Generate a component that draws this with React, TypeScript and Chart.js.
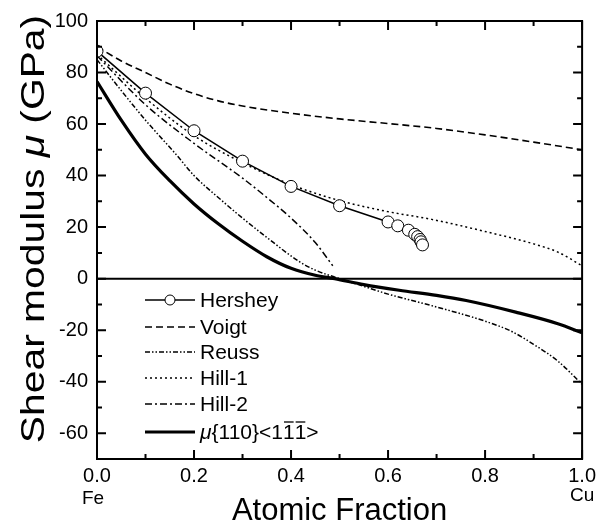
import React, { useEffect, useRef } from 'react';
import { Chart, registerables } from 'chart.js';

Chart.register(...registerables);

// ---- data ----
const hersheyX = [0, 0.1, 0.2, 0.3, 0.4, 0.5, 0.6, 0.62, 0.642, 0.655, 0.661, 0.666, 0.668, 0.671];
const hersheyY = [88.3, 72, 57.4, 45.6, 35.8, 28.3, 22, 20.5, 18.8, 17.2, 16.3, 15.2, 14.3, 13.1];

const voigtX = [0, 0.05, 0.1, 0.15, 0.2, 0.25, 0.3, 0.4, 0.5, 0.6, 0.7, 0.8, 0.9, 1.0];
const voigtY = [90, 84.5, 80, 75.5, 71.8, 69, 67, 64.2, 62, 60.2, 58.3, 55.8, 53, 50];

const reussX = [0, 0.05, 0.1, 0.164, 0.2, 0.253, 0.3, 0.35, 0.418, 0.45, 0.5, 0.55, 0.6, 0.7, 0.8, 0.856, 0.9, 0.95, 1.0];
const reussY = [85, 73, 61.5, 48, 40, 31, 23.5, 16, 6.5, 3.3, 0, -3, -6, -11, -16.5, -20.6, -25.5, -32, -41];

const hill1X = [0, 0.1, 0.2, 0.3, 0.4, 0.5, 0.6, 0.69, 0.8, 0.9, 0.95, 1.0];
const hill1Y = [87, 70, 55.5, 45, 36.5, 30.3, 26, 23, 18.3, 13.5, 10.3, 5];

const hill2X = [0, 0.1, 0.2, 0.3, 0.35, 0.4, 0.45, 0.486];
const hill2Y = [86.5, 67.5, 52.5, 39, 31.5, 23.5, 14, 5];

const muX = [0, 0.05, 0.1, 0.15, 0.2, 0.25, 0.3, 0.35, 0.4, 0.45, 0.49, 0.55, 0.623, 0.7, 0.761, 0.863, 0.95, 1.0];
const muY = [76.5, 61.5, 48.3, 38, 29, 21.3, 14.5, 8.5, 4, 1.3, 0, -2.3, -4.5, -6.5, -8.5, -13, -17.5, -21];

const xTickValues = [0, 0.2, 0.4, 0.6, 0.8, 1.0];
const xMinorValues = [0.1, 0.3, 0.5, 0.7, 0.9];
const yTickValues = [-60, -40, -20, 0, 20, 40, 60, 80, 100];
const yMinorValues = [-50, -30, -10, 10, 30, 50, 70, 90];

const seriesLabels = ['Hershey', 'Voigt', 'Reuss', 'Hill-1', 'Hill-2', 'μ{110}<111>'];

// ---- styles ----
const FONT = '"Liberation Sans", Arial, Helvetica, sans-serif';
const styles = [
  { dash: [] as number[], width: 1.5, marker: true },
  { dash: [7, 4], width: 1.6, marker: false },
  { dash: [5, 2, 1.5, 2, 1.5, 2], width: 1.5, marker: false },
  { dash: [2, 3], width: 1.5, marker: false },
  { dash: [7, 3, 2, 3], width: 1.5, marker: false },
  { dash: [] as number[], width: 3.2, marker: false },
];

const toXY = (xs: number[], ys: number[]) => xs.map((x, i) => ({ x, y: ys[i] }));

const decorPlugin = {
  id: 'decor',
  beforeDatasetsDraw(chart: any) {
    const { ctx, chartArea: a, scales } = chart;
    const y0 = scales.y.getPixelForValue(0);
    ctx.save();
    ctx.strokeStyle = '#000';
    ctx.lineWidth = 2;
    ctx.beginPath();
    ctx.moveTo(a.left, y0);
    ctx.lineTo(a.right, y0);
    ctx.stroke();
    ctx.restore();
  },
  afterDraw(chart: any) {
    const { ctx, chartArea: a, scales } = chart;
    const xs = scales.x;
    const ys = scales.y;
    ctx.save();
    ctx.strokeStyle = '#000';
    ctx.fillStyle = '#000';
    ctx.lineWidth = 2;
    ctx.setLineDash([]);
    ctx.strokeRect(a.left, a.top, a.right - a.left, a.bottom - a.top);

    const drawX = (v: number, len: number) => {
      const p = xs.getPixelForValue(v);
      ctx.beginPath();
      ctx.moveTo(p, a.bottom);
      ctx.lineTo(p, a.bottom - len);
      ctx.moveTo(p, a.top);
      ctx.lineTo(p, a.top + len);
      ctx.stroke();
    };
    const drawY = (v: number, len: number) => {
      const p = ys.getPixelForValue(v);
      ctx.beginPath();
      ctx.moveTo(a.left, p);
      ctx.lineTo(a.left + len, p);
      ctx.moveTo(a.right, p);
      ctx.lineTo(a.right - len, p);
      ctx.stroke();
    };
    xTickValues.forEach((v) => drawX(v, 9));
    xMinorValues.forEach((v) => drawX(v, 5));
    yTickValues.forEach((v) => drawY(v, 9));
    yMinorValues.forEach((v) => drawY(v, 5));

    // x title and end labels
    ctx.textBaseline = 'alphabetic';
    ctx.textAlign = 'center';
    ctx.font = `31px ${FONT}`;
    ctx.fillText('Atomic Fraction', (a.left + a.right) / 2, 520);
    ctx.font = `19px ${FONT}`;
    ctx.fillText('Fe', a.left - 4, 504);
    ctx.fillText('Cu', a.right, 501);

    // y title (rotated, stretched along its length like the reference)
    ctx.save();
    ctx.translate(44, 229);
    ctx.rotate(-Math.PI / 2);
    ctx.scale(1.2, 1);
    const parts = [
      { t: 'Shear modulus ', f: `34px ${FONT}` },
      { t: 'μ', f: `italic 34px ${FONT}` },
      { t: ' (GPa)', f: `34px ${FONT}` },
    ];
    let total = 0;
    parts.forEach((p) => { ctx.font = p.f; total += ctx.measureText(p.t).width; });
    let cx = -total / 2;
    ctx.textAlign = 'left';
    parts.forEach((p) => { ctx.font = p.f; ctx.fillText(p.t, cx, 0); cx += ctx.measureText(p.t).width; });
    ctx.restore();

    // legend
    const rowY = [300, 327, 352, 378, 404, 432];
    const lx0 = 145, lx1 = 195, tx = 200;
    seriesLabels.forEach((lab, i) => {
      const st = styles[i];
      const yy = rowY[i];
      ctx.setLineDash(st.dash);
      ctx.lineWidth = st.width;
      ctx.beginPath();
      ctx.moveTo(lx0, yy);
      ctx.lineTo(lx1, yy);
      ctx.stroke();
      ctx.setLineDash([]);
      if (st.marker) {
        ctx.lineWidth = 1;
        ctx.beginPath();
        ctx.arc((lx0 + lx1) / 2, yy, 5, 0, Math.PI * 2);
        ctx.fillStyle = '#fff';
        ctx.fill();
        ctx.stroke();
        ctx.fillStyle = '#000';
      }
      ctx.textAlign = 'left';
      ctx.textBaseline = 'middle';
      if (i === 5) {
        let x = tx;
        const segs = [
          { t: 'μ', f: `italic 21px ${FONT}`, bar: false },
          { t: '{110}<1', f: `21px ${FONT}`, bar: false },
          { t: '1', f: `21px ${FONT}`, bar: true },
          { t: '1', f: `21px ${FONT}`, bar: true },
          { t: '>', f: `21px ${FONT}`, bar: false },
        ];
        segs.forEach((s) => {
          ctx.font = s.f;
          ctx.fillText(s.t, x, yy + 1);
          const w = ctx.measureText(s.t).width;
          if (s.bar) {
            ctx.lineWidth = 1.3;
            ctx.beginPath();
            ctx.moveTo(x + 1, yy - 10);
            ctx.lineTo(x + w - 1, yy - 10);
            ctx.stroke();
          }
          x += w;
        });
      } else {
        ctx.font = `21px ${FONT}`;
        ctx.fillText(lab, tx, yy + 1);
      }
    });
    ctx.restore();
  },
};

export default function App() {
  const ref = useRef<HTMLCanvasElement | null>(null);
  useEffect(() => {
    if (!ref.current) return;
    const lineDs = (i: number, xs: number[], ysArr: number[]) => ({
      label: seriesLabels[i],
      data: toXY(xs, ysArr),
      showLine: true,
      borderColor: '#000',
      backgroundColor: '#000',
      borderWidth: styles[i].width,
      borderDash: styles[i].dash,
      pointRadius: 0,
      tension: 0.4,
      cubicInterpolationMode: 'monotone' as const,
      fill: false,
    });
    const chart = new Chart(ref.current, {
      type: 'scatter',
      data: {
        datasets: [
          {
            label: seriesLabels[0],
            data: toXY(hersheyX, hersheyY),
            showLine: true,
            borderColor: '#000',
            borderWidth: styles[0].width,
            pointRadius: 6,
            pointBackgroundColor: '#fff',
            pointBorderColor: '#000',
            pointBorderWidth: 1,
            tension: 0,
          },
          lineDs(1, voigtX, voigtY),
          lineDs(2, reussX, reussY),
          lineDs(3, hill1X, hill1Y),
          lineDs(4, hill2X, hill2Y),
          lineDs(5, muX, muY),
        ],
      },
      options: {
        animation: false,
        responsive: false,
        devicePixelRatio: 1,
        layout: { padding: { left: 0, right: 18, top: 14, bottom: 0 } },
        plugins: { legend: { display: false }, tooltip: { enabled: false } },
        scales: {
          x: {
            type: 'linear',
            min: 0,
            max: 1,
            afterBuildTicks: (s: any) => { s.ticks = xTickValues.map((v) => ({ value: v })); },
            afterFit: (s: any) => { s.height = 67; },
            grid: { display: false, drawTicks: false },
            border: { display: false },
            ticks: {
              color: '#000',
              font: { family: FONT, size: 20 },
              padding: 5,
              maxRotation: 0,
              autoSkip: false,
              callback: (v: any) => Number(v).toFixed(1),
            },
          },
          y: {
            type: 'linear',
            min: -70,
            max: 100,
            afterBuildTicks: (s: any) => { s.ticks = yTickValues.map((v) => ({ value: v })); },
            afterFit: (s: any) => { s.width = 97; },
            grid: { display: false, drawTicks: false },
            border: { display: false },
            ticks: {
              color: '#000',
              font: { family: FONT, size: 20 },
              padding: 9,
              autoSkip: false,
              callback: (v: any) => String(v),
            },
          },
        },
      },
      plugins: [decorPlugin],
    });
    return () => chart.destroy();
  }, []);
  return (
    <div style={{ position: 'absolute', left: 0, top: 0, width: 601, height: 526, background: '#fff' }}>
      <canvas ref={ref} width={601} height={526} style={{ display: 'block' }} />
    </div>
  );
}
